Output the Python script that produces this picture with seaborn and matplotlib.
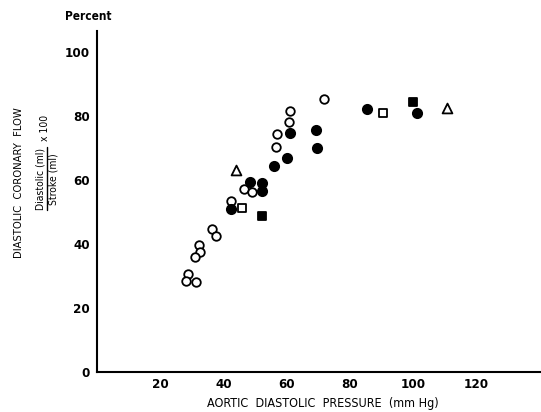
import matplotlib
matplotlib.use("Agg")
import matplotlib.pyplot as plt
import seaborn as sns
import pandas as pd

# Data
open_circle_x = [71.9, 61.1, 60.8, 57.0, 56.6, 46.6, 48.9, 42.5, 36.3, 37.6, 32.3, 32.7, 31.0, 28.7, 28.2, 31.4]
open_circle_y = [85.3, 81.7, 78.0, 74.3, 70.4, 57.2, 56.3, 53.5, 44.8, 42.4, 39.6, 37.5, 36.0, 30.6, 28.6, 28.0]
filled_circle_x = [60.9, 69.2, 69.5, 60.1, 56.1, 48.5, 52.3, 52.3, 42.4, 85.3, 101.0]
filled_circle_y = [74.8, 75.8, 70.0, 67.0, 64.3, 59.3, 59.1, 56.7, 51.0, 82.2, 81.0]
open_triangle_x = [43.9, 110.7]
open_triangle_y = [63.1, 82.6]
open_square_x = [45.9, 90.3]
open_square_y = [51.2, 81.1]
filled_square_x = [52.3, 100.0]
filled_square_y = [48.8, 84.3]

x_ticks = [20, 40, 60, 80, 100, 120]
y_ticks = [0, 20, 40, 60, 80, 100]

sns.set_style("white")
plt.rcParams['font.family'] = ['DejaVu Sans']
plt.rcParams['font.stretch'] = 'condensed'
plt.rcParams['font.weight'] = 'bold'
plt.rcParams['text.color'] = 'black'
plt.rcParams['xtick.color'] = 'black'
plt.rcParams['ytick.color'] = 'black'

fig = plt.figure(figsize=(5.41, 4.12), dpi=100)
ax = fig.add_axes([96.7 / 541, (412 - 372) / 412, (541 - 96.7) / 541, (372 - 31) / 412])

groups = [
    (open_circle_x, open_circle_y, 'o', 'white', 38),
    (filled_circle_x, filled_circle_y, 'o', 'black', 45),
    (open_triangle_x, open_triangle_y, '^', 'white', 50),
    (open_square_x, open_square_y, 's', 'white', 30),
    (filled_square_x, filled_square_y, 's', 'black', 38),
]
for xs, ys, m, fc, s in groups:
    df = pd.DataFrame({'x': xs, 'y': ys})
    sns.scatterplot(data=df, x='x', y='y', marker=m, s=s, color=fc,
                    edgecolor='black', linewidth=1.3, ax=ax, zorder=3)

ax.set_xlim(0, 140.3)
ax.set_ylim(0, 106.6)
ax.set_xticks(x_ticks)
ax.set_yticks(y_ticks)
ax.set_xticklabels([str(v) for v in x_ticks])
ax.set_yticklabels([str(v) for v in y_ticks])
sns.despine(ax=ax)
for sp in ['left', 'bottom']:
    ax.spines[sp].set_linewidth(1.5)
    ax.spines[sp].set_color('black')
ax.tick_params(axis='both', direction='in', length=5, width=1.3, colors='black',
               labelsize=9.5, pad=4)
ax.tick_params(axis='y', pad=5)
ax.set_xlabel('')
ax.set_ylabel('')

fig.text(323 / 541, 1 - 404 / 412, 'AORTIC  DIASTOLIC  PRESSURE  (mm Hg)', ha='center', va='center',
         fontsize=9, fontweight='normal')
fig.text(88 / 541, 1 - 17 / 412, 'Percent', ha='center', va='center', fontsize=8.5)
fig.text(19 / 541, 1 - 183 / 412, 'DIASTOLIC  CORONARY  FLOW', rotation=90, ha='center', va='center',
         fontsize=8, fontweight='normal')
fig.text(40.5 / 541, 1 - 179 / 412, 'Diastolic (ml)', rotation=90, ha='center', va='center',
         fontsize=7.5, fontweight='normal')
fig.text(53 / 541, 1 - 179 / 412, 'Stroke (ml)', rotation=90, ha='center', va='center',
         fontsize=7.5, fontweight='normal')
fig.lines.append(plt.Line2D([46.5 / 541, 46.5 / 541], [1 - 210 / 412, 1 - 147 / 412],
                            transform=fig.transFigure, color='black', linewidth=1.0))
fig.text(45 / 541, 1 - 127.5 / 412, 'x 100', rotation=90, ha='center', va='center',
         fontsize=7.5, fontweight='normal')

fig.savefig('out.png', dpi=100)
